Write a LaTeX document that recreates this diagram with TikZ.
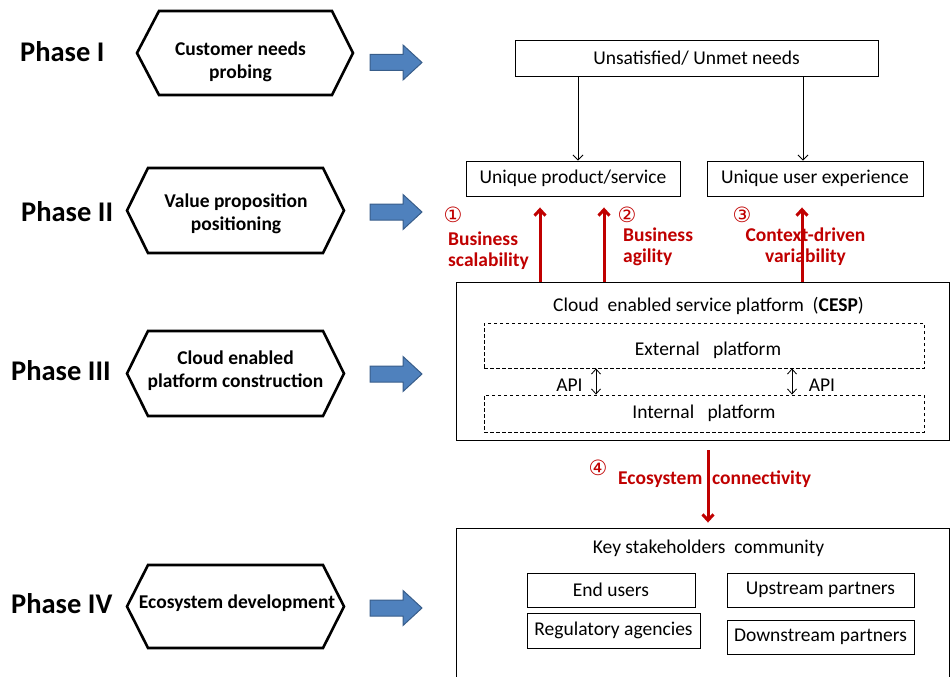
\documentclass[tikz,border=0pt]{standalone}
\usepackage{fontspec}
\setmainfont{Carlito}
\newfontfamily\symfont{DejaVu Sans}
\usetikzlibrary{arrows.meta}
\definecolor{darkred}{HTML}{C00000}
\definecolor{arrowblue}{HTML}{4F81BD}
\definecolor{arrowedge}{HTML}{385D8A}
\begin{document}
\begin{tikzpicture}[x=1pt,y=-1pt,
  box/.style={draw, line width=0.9pt, inner sep=0pt, font=\fontsize{19.5}{22}\selectfont},
  dbox/.style={draw, dash pattern=on 3.5pt off 2.5pt, line width=0.9pt, inner sep=0pt, font=\fontsize{19.5}{22}\selectfont},
  txt/.style={inner sep=0pt, font=\fontsize{19.5}{22}\selectfont},
  hexline/.style={line width=2.6pt, line join=miter},
  hextext/.style={font=\bfseries\fontsize{19.5}{23}\selectfont, align=center, inner sep=0pt},
  phase/.style={font=\bfseries\fontsize{28.5}{30}\selectfont, anchor=base west, inner sep=0pt},
  redlbl/.style={text=darkred, font=\bfseries\fontsize{19.5}{21}\selectfont, inner sep=0pt},
  circnum/.style={text=darkred, font=\symfont\fontsize{21}{22}\selectfont, inner sep=0pt},
  redarrow/.style={draw=darkred, line width=3pt, -{Straight Barb[length=6pt,width=11pt]}},
  thinarrow/.style={line width=0.8pt, -{Straight Barb[length=5pt,width=10pt]}},
  apiarrow/.style={line width=0.8pt, {Straight Barb[length=5pt,width=9pt]}-{Straight Barb[length=5pt,width=9pt]}},
  bluearrow/.style={fill=arrowblue, draw=arrowedge, line width=1pt, line join=miter}
]
\useasboundingbox (0,0) rectangle (951,677);
\clip (0,0) rectangle (951,677);

% phase labels
\node[phase] (p1) at (20,62) {Phase I};
\node[phase] (p2) at (21,221) {Phase II};
\node[phase] (p3) at (11,380) {Phase III};
\node[phase] (p4) at (11,613) {Phase IV};

% hexagons
\foreach \l/\tl/\tr/\r/\t/\b in {137/159/332/353/11/95, 127/148/323/344/168/253, 127/148/323/344/331/416, 127/148/323/344/565/648}
  \draw[hexline] (\l,{(\t+\b)/2}) -- (\tl,\t) -- (\tr,\t) -- (\r,{(\t+\b)/2}) -- (\tr,\b) -- (\tl,\b) -- cycle;
\node[hextext] (h1) at (240.5,61.5) {Customer needs\\probing};
\node[hextext] (h2) at (236,214) {Value proposition\\positioning};
\node[hextext] (h3) at (235.5,370.5) {Cloud enabled\\platform construction};
\node[hextext] (h4) at (237,603.5) {Ecosystem development};

% blue arrows
\foreach \cy in {62.5,212,374,608}
  \draw[bluearrow] (370,\cy-8) -- (403,\cy-8) -- (403,\cy-17.5) -- (422,\cy) -- (403,\cy+17.5) -- (403,\cy+8) -- (370,\cy+8) -- cycle;

% top boxes
\node[box, minimum width=363pt, minimum height=36pt] (unmet) at (696.5,58) {Unsatisfied/ Unmet needs};
\node[box, minimum width=214pt, minimum height=35pt] (prod) at (573,178.5) {Unique product/service};
\node[box, minimum width=216pt, minimum height=35pt] (uexp) at (815,178.5) {Unique user experience};
\coordinate (xa) at (578,0);
\coordinate (xb) at (803,0);
\draw[thinarrow] (unmet.south -| xa) -- (prod.north -| xa);
\draw[thinarrow] (unmet.south -| xb) -- (uexp.north -| xb);

% CESP
\node[box, minimum width=493pt, minimum height=158pt] (cesp) at (702.5,361) {};
\node[txt] (cesptitle) at (708.5,306) {Cloud\ \ enabled service platform\ \ (\textbf{CESP})};
\node[dbox, minimum width=440pt, minimum height=45pt] (ext) at (704,345.5) {};
\node[txt] (exttxt) at (708,350) {External\ \ \ platform};
\node[dbox, minimum width=440pt, minimum height=37pt] (int) at (704,413.5) {Internal\ \ \ platform};
\coordinate (xc) at (596,0);
\coordinate (xd) at (792,0);
\draw[apiarrow] (ext.south -| xc) -- (int.north -| xc);
\draw[apiarrow] (ext.south -| xd) -- (int.north -| xd);
\node[txt] (api1) at (569.5,385.5) {API};
\node[txt] (api2) at (822,385.5) {API};

% red arrows
\coordinate (r1) at (540,0);
\coordinate (r2) at (604,0);
\coordinate (r3) at (802,0);
\coordinate (r4) at (708,0);
\draw[redarrow, shorten >=11pt] (cesp.north -| r1) -- (prod.south -| r1);
\draw[redarrow, shorten >=11pt] (cesp.north -| r2) -- (prod.south -| r2);
\draw[redarrow, shorten >=11pt] (cesp.north -| r3) -- (uexp.south -| r3);

\node[circnum] (n1) at (453,215) {①};
\node[redlbl, anchor=west, align=left] (l1) at (448,251) {Business\\scalability};
\node[circnum] (n2) at (627,215) {②};
\node[redlbl, anchor=west, align=left] (l2) at (623,247) {Business\\agility};
\node[circnum] (n3) at (742,215) {③};
\node[redlbl, align=center] (l3) at (805.5,247) {Context-driven\\variability};

% stakeholders
\node[box, minimum width=493pt, minimum height=170pt] (stake) at (702.5,613) {};
\draw[redarrow, shorten <=10pt, shorten >=5pt] (cesp.south -| r4) -- (stake.north -| r4);
\node[circnum] (n4) at (598,468) {④};
\node[redlbl, anchor=west] (l4) at (618,479.5) {Ecosystem\hspace{0.5em}connectivity};
\node[txt] (staketitle) at (708.5,548) {Key stakeholders\ \ community};
\node[box, minimum width=168pt, minimum height=34pt] (enduser) at (611,590) {End users};
\node[box, minimum width=187pt, minimum height=34pt] (up) at (820.5,590) {Upstream partners};
\node[box, minimum width=173pt, minimum height=35pt] (reg) at (613.5,630.5) {Regulatory agencies};
\node[box, minimum width=187pt, minimum height=34pt] (down) at (820.5,637) {Downstream partners};
\end{tikzpicture}
\end{document}
